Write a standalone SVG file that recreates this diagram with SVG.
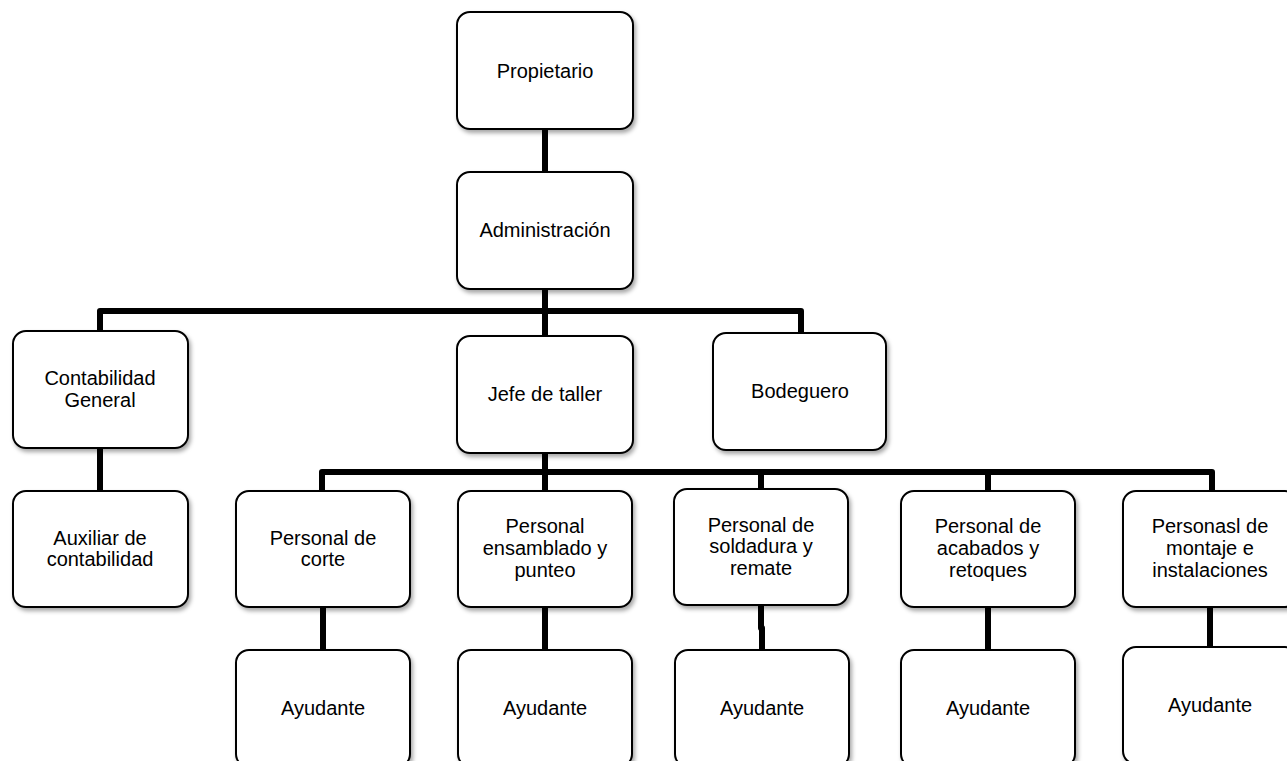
<svg xmlns="http://www.w3.org/2000/svg" width="1287" height="761" viewBox="0 0 1287 761">
<style>
.box{fill:#fff;stroke:#000;stroke-width:2;filter:url(#sh)}
.t{font-family:"Liberation Sans",Arial,sans-serif;font-size:20px;fill:#000;text-anchor:middle}
.c{fill:none;stroke:#000;stroke-width:6;stroke-linejoin:round}
</style>
<defs>
<filter id="sh" x="-10%" y="-10%" width="130%" height="130%">
<feDropShadow dx="2" dy="3" stdDeviation="2" flood-color="#000" flood-opacity="0.35"/>
</filter>
</defs>
<rect width="1287" height="761" fill="#fff"/>
<g id="connectors">
<path class="c" d="M545 129V172"/>
<path class="c" d="M545 289V336"/>
<path class="c" d="M100 331V311H801V333"/>
<path class="c" d="M100 448V491"/>
<path class="c" d="M545 453V491"/>
<path class="c" d="M322 491V472H1212V491"/>
<path class="c" d="M761 472V489"/>
<path class="c" d="M988 472V491"/>
<path class="c" d="M323 607V650"/>
<path class="c" d="M545 607V650"/>
<path class="c" d="M761 605V628H762V650"/>
<path class="c" d="M988 607V650"/>
<path class="c" d="M1210 607V647"/>
</g>
<g id="propietario"><rect class="box" x="457" y="12" width="176" height="117" rx="13"/><text class="t" x="545" y="78">Propietario</text></g>
<g id="administracion"><rect class="box" x="457" y="172" width="176" height="117" rx="13"/><text class="t" x="545" y="237">Administración</text></g>
<g id="contabilidad"><rect class="box" x="13" y="331" width="175" height="117" rx="13"/><text class="t" x="100" y="385">Contabilidad</text><text class="t" x="100" y="407">General</text></g>
<g id="jefe"><rect class="box" x="457" y="336" width="176" height="117" rx="13"/><text class="t" x="545" y="401">Jefe de taller</text></g>
<g id="bodeguero"><rect class="box" x="713" y="333" width="173" height="117" rx="13"/><text class="t" x="800" y="398">Bodeguero</text></g>
<g id="auxiliar"><rect class="box" x="13" y="491" width="175" height="116" rx="13"/><text class="t" x="100" y="545">Auxiliar de</text><text class="t" x="100" y="566">contabilidad</text></g>
<g id="corte"><rect class="box" x="236" y="491" width="174" height="116" rx="13"/><text class="t" x="323" y="545">Personal de</text><text class="t" x="323" y="566">corte</text></g>
<g id="ensamblado"><rect class="box" x="458" y="491" width="174" height="116" rx="13"/><text class="t" x="545" y="533">Personal</text><text class="t" x="545" y="555">ensamblado y</text><text class="t" x="545" y="577">punteo</text></g>
<g id="soldadura"><rect class="box" x="674" y="489" width="174" height="116" rx="13"/><text class="t" x="761" y="532">Personal de</text><text class="t" x="761" y="553">soldadura y</text><text class="t" x="761" y="575">remate</text></g>
<g id="acabados"><rect class="box" x="901" y="491" width="174" height="116" rx="13"/><text class="t" x="988" y="533">Personal de</text><text class="t" x="988" y="555">acabados y</text><text class="t" x="988" y="577">retoques</text></g>
<g id="montaje"><rect class="box" x="1123" y="491" width="175" height="116" rx="13"/><text class="t" x="1210" y="533">Personasl de</text><text class="t" x="1210" y="555">montaje e</text><text class="t" x="1210" y="577">instalaciones</text></g>
<g id="ayudante1"><rect class="box" x="236" y="650" width="174" height="117" rx="13"/><text class="t" x="323" y="715">Ayudante</text></g>
<g id="ayudante2"><rect class="box" x="458" y="650" width="174" height="117" rx="13"/><text class="t" x="545" y="715">Ayudante</text></g>
<g id="ayudante3"><rect class="box" x="675" y="650" width="174" height="117" rx="13"/><text class="t" x="762" y="715">Ayudante</text></g>
<g id="ayudante4"><rect class="box" x="901" y="650" width="174" height="117" rx="13"/><text class="t" x="988" y="715">Ayudante</text></g>
<g id="ayudante5"><rect class="box" x="1123" y="647" width="175" height="117" rx="13"/><text class="t" x="1210" y="712">Ayudante</text></g>
</svg>
